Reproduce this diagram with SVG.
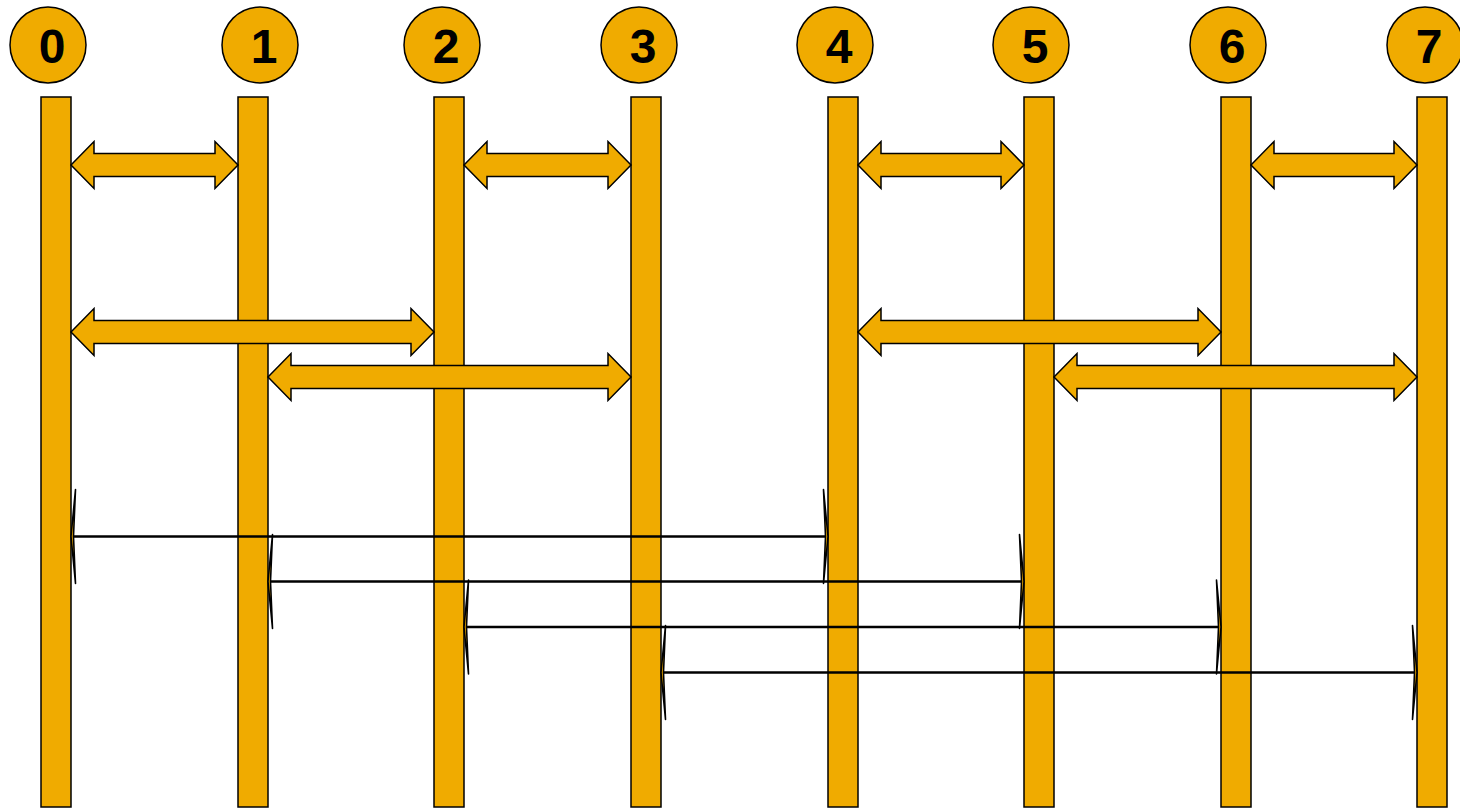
<svg xmlns="http://www.w3.org/2000/svg" width="1460" height="808" viewBox="0 0 1460 808">
<style>
.bar{fill:#F0AB00;stroke:#000;stroke-width:1.5}
.circ{fill:#F0AB00;stroke:#000;stroke-width:1.5}
.lbl{font-family:"Liberation Sans",Arial,sans-serif;font-weight:bold;font-size:48px;fill:#000;text-anchor:middle}
.blk{fill:#F0AB00;stroke:#000;stroke-width:1.5;stroke-linejoin:miter}
.thin{stroke:#000;stroke-width:2.5;fill:none;marker-start:url(#th);marker-end:url(#th)}
</style>
<defs>
<marker id="th" viewBox="0 0 7 96" markerUnits="userSpaceOnUse" markerWidth="7" markerHeight="96" refX="6.5" refY="48" orient="auto-start-reverse" overflow="visible">
<path d="M6.5,48 L2,1 L4,48 L2,95 Z" fill="#F0AB00" stroke="#000" stroke-width="1.6" stroke-linejoin="round"/>
</marker>
</defs>
<g id="node0"><circle class="circ" cx="48" cy="45" r="38"/><text class="lbl" x="52" y="63">0</text><rect class="bar" x="41" y="97" width="30" height="710"/></g>
<g id="node1"><circle class="circ" cx="260" cy="45" r="38"/><text class="lbl" x="264" y="63">1</text><rect class="bar" x="238" y="97" width="30" height="710"/></g>
<g id="node2"><circle class="circ" cx="442" cy="45" r="38"/><text class="lbl" x="446" y="63">2</text><rect class="bar" x="434" y="97" width="30" height="710"/></g>
<g id="node3"><circle class="circ" cx="639" cy="45" r="38"/><text class="lbl" x="643" y="63">3</text><rect class="bar" x="631" y="97" width="30" height="710"/></g>
<g id="node4"><circle class="circ" cx="835" cy="45" r="38"/><text class="lbl" x="839" y="63">4</text><rect class="bar" x="828" y="97" width="30" height="710"/></g>
<g id="node5"><circle class="circ" cx="1031" cy="45" r="38"/><text class="lbl" x="1035" y="63">5</text><rect class="bar" x="1024" y="97" width="30" height="710"/></g>
<g id="node6"><circle class="circ" cx="1228" cy="45" r="38"/><text class="lbl" x="1232" y="63">6</text><rect class="bar" x="1221" y="97" width="30" height="710"/></g>
<g id="node7"><circle class="circ" cx="1425" cy="45" r="38"/><text class="lbl" x="1429" y="63">7</text><rect class="bar" x="1417" y="97" width="30" height="710"/></g>
<g id="connectors">
<path class="blk" d="M71,165 L94,141.5 L94,153.5 L215,153.5 L215,141.5 L238,165 L215,188.5 L215,176.5 L94,176.5 L94,188.5 Z"/>
<path class="blk" d="M464,165 L487,141.5 L487,153.5 L608,153.5 L608,141.5 L631,165 L608,188.5 L608,176.5 L487,176.5 L487,188.5 Z"/>
<path class="blk" d="M858,165 L881,141.5 L881,153.5 L1001,153.5 L1001,141.5 L1024,165 L1001,188.5 L1001,176.5 L881,176.5 L881,188.5 Z"/>
<path class="blk" d="M1251,165 L1274,141.5 L1274,153.5 L1394,153.5 L1394,141.5 L1417,165 L1394,188.5 L1394,176.5 L1274,176.5 L1274,188.5 Z"/>
<path class="blk" d="M71,332 L94,308.5 L94,320.5 L411,320.5 L411,308.5 L434,332 L411,355.5 L411,343.5 L94,343.5 L94,355.5 Z"/>
<path class="blk" d="M858,332 L881,308.5 L881,320.5 L1198,320.5 L1198,308.5 L1221,332 L1198,355.5 L1198,343.5 L881,343.5 L881,355.5 Z"/>
<path class="blk" d="M268,377 L291,353.5 L291,365.5 L608,365.5 L608,353.5 L631,377 L608,400.5 L608,388.5 L291,388.5 L291,400.5 Z"/>
<path class="blk" d="M1054,377 L1077,353.5 L1077,365.5 L1394,365.5 L1394,353.5 L1417,377 L1394,400.5 L1394,388.5 L1077,388.5 L1077,400.5 Z"/>
<line class="thin" x1="71" y1="536.5" x2="828" y2="536.5"/>
<line class="thin" x1="268" y1="581.5" x2="1024" y2="581.5"/>
<line class="thin" x1="464" y1="627" x2="1221" y2="627"/>
<line class="thin" x1="661" y1="672.5" x2="1417" y2="672.5"/>
</g>
</svg>
